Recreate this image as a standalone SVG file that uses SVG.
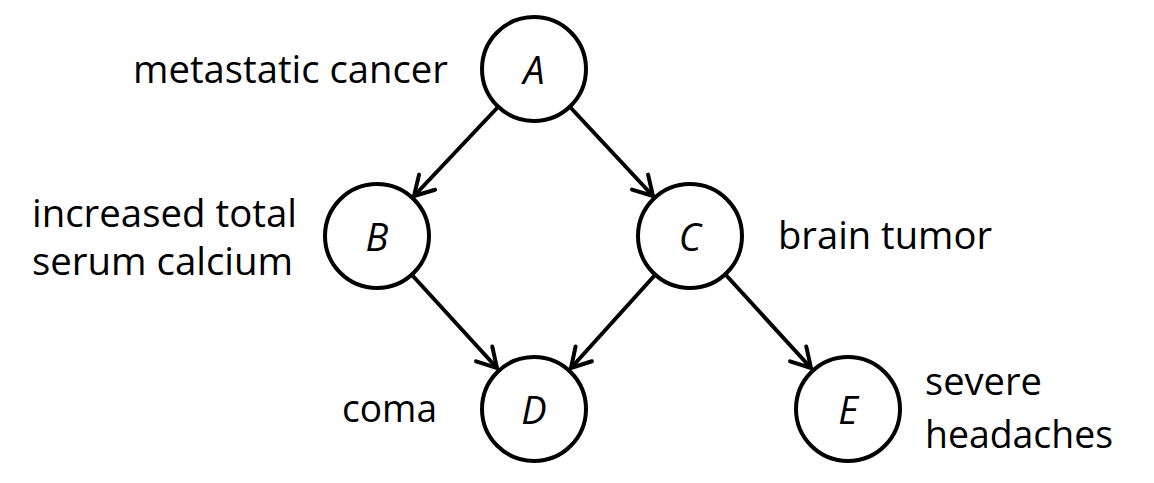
<svg xmlns="http://www.w3.org/2000/svg" width="1154" height="483" viewBox="0 0 1154 483">
<style>
.node circle{fill:#fff;stroke:#000;stroke-width:4}
.nl{font-family:"Open Sans","Liberation Sans",sans-serif;font-style:italic;font-size:38px;text-anchor:middle;fill:#000}
.lbl{font-family:"Open Sans","Liberation Sans",sans-serif;font-size:38px;fill:#000}
.edge{stroke:#000;stroke-width:4;fill:none;marker-end:url(#arr)}
</style>
<defs>
<marker id="arr" markerUnits="userSpaceOnUse" markerWidth="40" markerHeight="40" viewBox="-30 -20 40 40" refX="0" refY="0" orient="auto">
<path d="M-19,-11 L0,0 L-19,11" fill="none" stroke="#000" stroke-width="4" stroke-linecap="round" stroke-linejoin="miter"/>
</marker>
</defs>
<rect width="1154" height="483" fill="#fff"/>
<g id="connectors">
<line class="edge" x1="498" y1="107" x2="414" y2="196"/>
<line class="edge" x1="570" y1="107" x2="653" y2="196"/>
<line class="edge" x1="412" y1="275" x2="497" y2="368"/>
<line class="edge" x1="655" y1="275" x2="571" y2="368"/>
<line class="edge" x1="725" y1="274" x2="811" y2="368"/>
</g>
<g id="nodeA" class="node"><circle cx="534" cy="69" r="52"/><text class="nl" x="534" y="84">A</text></g>
<g id="nodeB" class="node"><circle cx="377" cy="236" r="52"/><text class="nl" x="377" y="251">B</text></g>
<g id="nodeC" class="node"><circle cx="690" cy="236" r="52"/><text class="nl" x="690" y="251">C</text></g>
<g id="nodeD" class="node"><circle cx="534" cy="409" r="52"/><text class="nl" x="534" y="424">D</text></g>
<g id="nodeE" class="node"><circle cx="848" cy="409" r="52"/><text class="nl" x="848" y="424">E</text></g>
<g id="labels">
<text class="lbl" x="133" y="83" textLength="315" lengthAdjust="spacingAndGlyphs">metastatic cancer</text>
<text class="lbl" x="32" y="227" textLength="265" lengthAdjust="spacingAndGlyphs">increased total</text>
<text class="lbl" x="32" y="275" textLength="261" lengthAdjust="spacingAndGlyphs">serum calcium</text>
<text class="lbl" x="778" y="249" textLength="214" lengthAdjust="spacingAndGlyphs">brain tumor</text>
<text class="lbl" x="342" y="422" textLength="95" lengthAdjust="spacingAndGlyphs">coma</text>
<text class="lbl" x="925" y="395" textLength="117" lengthAdjust="spacingAndGlyphs">severe</text>
<text class="lbl" x="925" y="448" textLength="188" lengthAdjust="spacingAndGlyphs">headaches</text>
</g>
</svg>
